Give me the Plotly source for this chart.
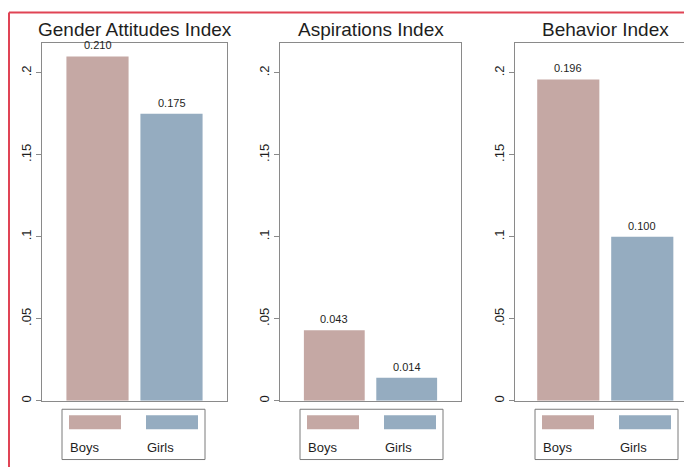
import plotly.graph_objects as go

# ---- data ----
panels = ["Gender Attitudes Index", "Aspirations Index", "Behavior Index"]
groups = ["Boys", "Girls"]
boys = [0.210, 0.043, 0.196]
girls = [0.175, 0.014, 0.100]
ytick_vals = [0, 0.05, 0.1, 0.15, 0.2]
ytick_text = ["0", ".05", ".1", ".15", ".2"]

# ---- styling / layout constants ----
OFF = 8  # page body margin offset of the figure
W, H = 692 - OFF, 469 - OFF
colors = ["#C5A8A4", "#95ACC0"]
axis_grey = "#8A8A8A"
text_col = "#1E1E1E"
FONT = "Liberation Sans, Arial, sans-serif"

box_left = [42, 280, 515]
box_right = [227, 461, 692]
xranges = [[0.25, 2.75], [0.25, 2.75], [0.28, 2.672]]
title_cx = [135, 370.5, 605]
y_zero_px, y_top_px = 402.5, 43.5
yrange = [0, 0.218]
xpos = [1, 2]


def px(x):
    return (x - OFF) / W


def py(y):
    return 1 - (y - OFF) / H


ydom = [py(y_zero_px), py(y_top_px)]

fig = go.Figure()
annotations = []
shapes = []

for i, name in enumerate(panels):
    sfx = "" if i == 0 else str(i + 1)
    vals = [boys[i], girls[i]]
    fig.add_trace(go.Bar(
        x=xpos, y=vals, width=0.84,
        marker=dict(color=colors, line=dict(width=0)),
        xaxis="x" + sfx, yaxis="y" + sfx,
        showlegend=False, hoverinfo="skip",
    ))
    fig.update_layout(**{
        "xaxis" + sfx: dict(
            domain=[px(box_left[i]), min(1, px(box_right[i]))], range=xranges[i],
            anchor="y" + sfx, showticklabels=False, ticks="",
            showgrid=False, zeroline=False, showline=True, mirror=True,
            linecolor=axis_grey, linewidth=1, fixedrange=True,
        ),
        "yaxis" + sfx: dict(
            domain=ydom, range=yrange, anchor="x" + sfx,
            tickvals=ytick_vals, ticktext=ytick_text, tickangle=-90,
            ticks="outside", ticklen=5, tickcolor=axis_grey, tickwidth=1,
            tickfont=dict(size=13, color=text_col, family=FONT),
            showgrid=False, zeroline=False, showline=True,
            mirror=(i < 2), linecolor=axis_grey, linewidth=1, fixedrange=True,
        ),
    })
    # value labels
    for xv, v in zip(xpos, vals):
        annotations.append(dict(
            x=xv, y=v, xref="x" + sfx, yref="y" + sfx, text=f"{v:.3f}",
            showarrow=False, yanchor="bottom", yshift=3,
            font=dict(size=11, color=text_col, family=FONT),
        ))
    # panel title
    annotations.append(dict(
        x=px(title_cx[i]), y=py(30), xref="paper", yref="paper", text=name,
        showarrow=False, xanchor="center", yanchor="middle",
        font=dict(size=19, color=text_col, family=FONT),
    ))
    # legend box
    fl = box_left[i] + 20
    shapes.append(dict(type="rect", xref="paper", yref="paper",
                       x0=px(fl), x1=px(fl + 143), y0=py(461.5), y1=py(411),
                       line=dict(color="#7A7A7A", width=1), fillcolor="white"))
    for g, (gname, off) in enumerate(zip(groups, [7, 84])):
        sx = fl + off
        shapes.append(dict(type="rect", xref="paper", yref="paper",
                           x0=px(sx), x1=px(sx + 52), y0=py(431), y1=py(417),
                           line=dict(width=0), fillcolor=colors[g]))
        annotations.append(dict(
            x=px(sx - 1), y=py(449), xref="paper", yref="paper", text=gname,
            showarrow=False, xanchor="left", yanchor="middle",
            font=dict(size=13, color=text_col, family=FONT),
        ))

# red frame (top and left edges)
red = "#E04455"
shapes.append(dict(type="line", xref="paper", yref="paper",
                   x0=px(9), x1=1, y0=py(12.5), y1=py(12.5),
                   line=dict(color=red, width=2)))
shapes.append(dict(type="line", xref="paper", yref="paper",
                   x0=px(9), x1=px(9), y0=0, y1=py(12.5),
                   line=dict(color=red, width=2)))

fig.update_layout(
    width=W, height=H,
    margin=dict(l=0, r=0, t=0, b=0),
    paper_bgcolor="white", plot_bgcolor="white",
    annotations=annotations, shapes=shapes,
    font=dict(family=FONT, color=text_col),
    showlegend=False,
)

fig.write_html("out.html", config={"displayModeBar": False})
